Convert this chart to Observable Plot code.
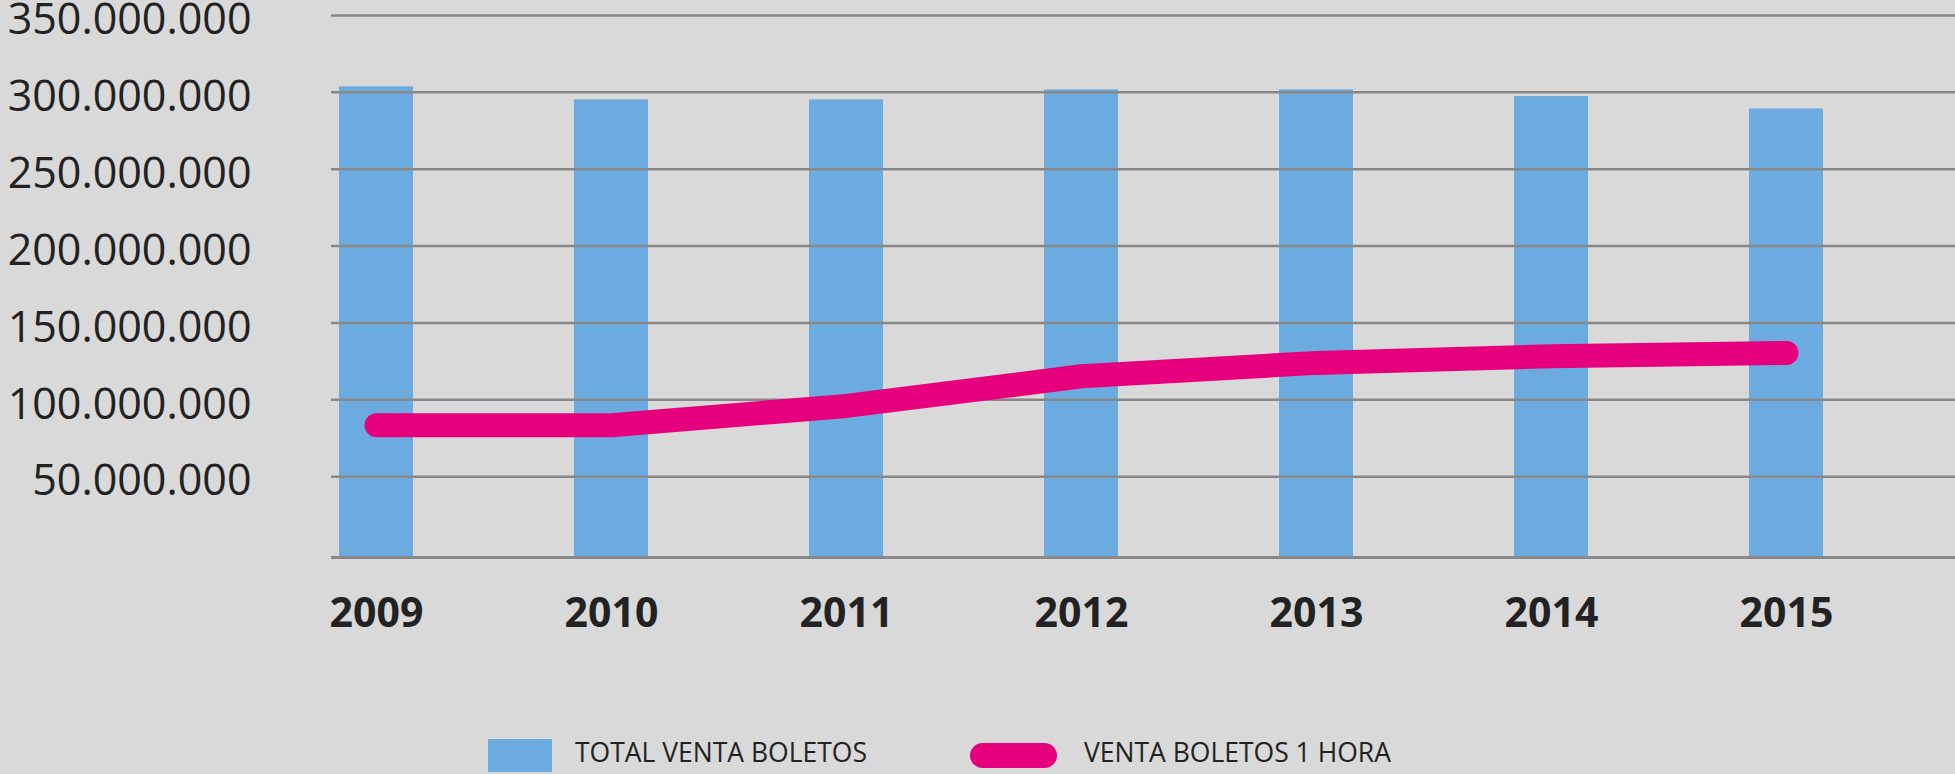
<!DOCTYPE html>
<html>
<head>
<meta charset="utf-8">
<script src="https://cdn.jsdelivr.net/npm/d3@7"></script>
<script src="https://cdn.jsdelivr.net/npm/@observablehq/plot@0.6"></script>
<style>
html, body { margin:0; padding:0; background:#d9d9d9; width:1955px; height:774px; overflow:hidden; font-family:"Open Sans", sans-serif; }
#chart svg { display:block; }
#legend { position:relative; width:1955px; height:38px; }
#legend .sw { position:absolute; display:block; }
#legend .lt { position:absolute; display:block; font-size:26.5px; line-height:1; color:#222; white-space:nowrap; top:3px; }
</style>
</head>
<body>
<div id="chart"></div>
<div id="legend"></div>
<script>
const years = ["2009", "2010", "2011", "2012", "2013", "2014", "2015"];
const totalVenta = [303.6e6, 295.1e6, 295.1e6, 301.6e6, 301.6e6, 297.3e6, 289.2e6];
const venta1Hora = [83.4e6, 83.4e6, 96.0e6, 115.3e6, 124.0e6, 128.3e6, 130.5e6];
const yTicks = [50e6, 100e6, 150e6, 200e6, 250e6, 300e6, 350e6];
const seriesNames = ["TOTAL VENTA BOLETOS", "VENTA BOLETOS 1 HORA"];
const seriesColors = ["#6cabdf", "#e6007e"];

const data = years.map((y, i) => ({year: y, total: totalVenta[i], hora: venta1Hora[i]}));
const fmt = d => d3.format(",")(d).replace(/,/g, ".");

const chart = Plot.plot({
  width: 1955,
  height: 736,
  marginTop: 15,
  marginBottom: 183,
  marginLeft: 331,
  marginRight: 0,
  style: {background: "transparent", fontFamily: "'Open Sans', sans-serif", color: "#222", overflow: "visible"},
  x: {domain: years, range: [331, 1832], paddingInner: 0.685, paddingOuter: 0.036, label: null},
  y: {domain: [0, 350e6], label: null},
  marks: [
    Plot.barY(data, {x: "year", y: "total", fill: seriesColors[0], insetBottom: -3}),
    Plot.ruleY(yTicks, {stroke: "#888888", strokeWidth: 2.5}),
    Plot.ruleY([0], {stroke: "#888888", strokeWidth: 3, dy: 4}),
    Plot.line(data, {x: "year", y: "hora", stroke: seriesColors[1], strokeWidth: 24, strokeLinecap: "round", strokeLinejoin: "miter"}),
    Plot.axisY({ticks: yTicks, tickFormat: fmt, tickSize: 0, tickPadding: 80, fontSize: 43, dy: 5, fill: "#222", label: null}),
    Plot.axisX({tickSize: 0, tickPadding: 44, fontSize: 41, fontWeight: "bold", fill: "#222", label: null})
  ]
});
document.getElementById("chart").appendChild(chart);

// legend
const legend = document.getElementById("legend");
const swatches = [
  {left: 488, top: 3, w: 64, h: 33, r: 0, textLeft: 575},
  {left: 970, top: 7, w: 87, h: 25, r: 12.5, textLeft: 1084}
];
seriesNames.forEach((name, i) => {
  const s = swatches[i];
  const sw = document.createElement("span");
  sw.className = "sw";
  sw.style.left = s.left + "px";
  sw.style.top = s.top + "px";
  sw.style.width = s.w + "px";
  sw.style.height = s.h + "px";
  sw.style.borderRadius = s.r + "px";
  sw.style.background = seriesColors[i];
  legend.appendChild(sw);
  const t = document.createElement("span");
  t.className = "lt";
  t.style.left = s.textLeft + "px";
  t.textContent = name;
  legend.appendChild(t);
});
</script>
</body>
</html>
